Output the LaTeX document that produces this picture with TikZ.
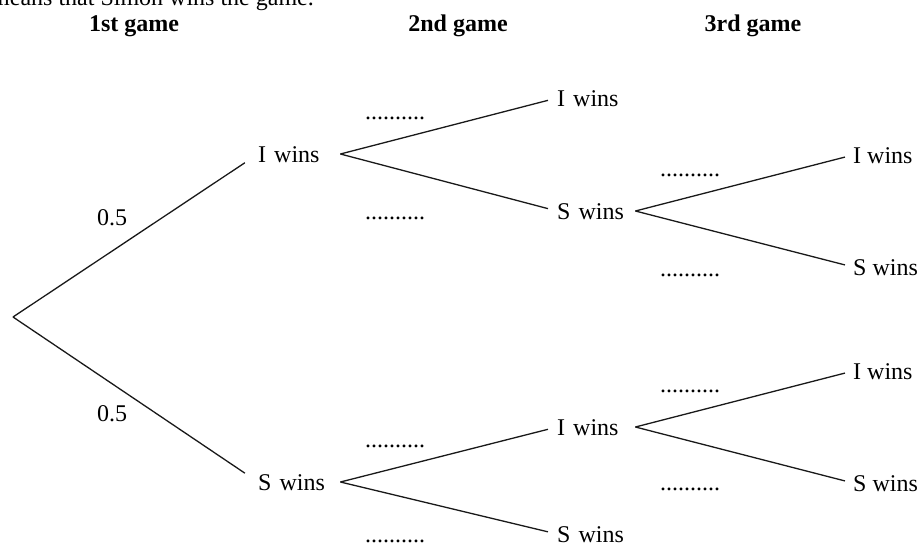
\documentclass[tikz,border=0pt]{standalone}
\usepackage{fontspec}
\setmainfont{Liberation Serif}
\begin{document}
\begin{tikzpicture}[x=1pt,y=-1pt,
  lbl/.style={anchor=west,inner xsep=0pt,inner ysep=0pt,text height=16pt,text depth=0pt,align=left,font=\fontsize{24}{28}\selectfont},
  lvlone/.style={text width=82pt},
  lvltwo/.style={text width=78pt},
  head/.style={anchor=base,inner sep=0pt,font=\bfseries\fontsize{24}{28}\selectfont},
  prob/.style={inner sep=0pt,font=\fontsize{24}{28}\selectfont},
  dotsline/.style={anchor=base,inner sep=0pt,font=\fontsize{24}{28}\selectfont},
  branch/.style={draw=black!90,line width=1.3pt}]
\useasboundingbox (0,0) rectangle (919,547);
\node[anchor=base east,inner sep=0pt,font=\fontsize{24}{28}\selectfont] (intro) at (314,5) {means that Simon wins the game.};
\node[head] (g1) at (134,31) {1st game};
\node[head] (g2) at (458,31) {2nd game};
\node[head] (g3) at (753,31) {3rd game};
\coordinate (root) at (13,317);
\node[lbl,lvlone] (i1) at (258,154) {I wins};
\node[lbl,lvlone] (s1) at (258,482) {S wins};
\node[lbl,lvltwo] (ii2) at (557,98) {I wins};
\node[lbl,lvltwo] (is2) at (557,211) {S wins};
\node[lbl,lvltwo] (si2) at (557,427) {I wins};
\node[lbl,lvltwo] (ss2) at (557,534) {S wins};
\node[lbl] (isi3) at (853,155) {I wins};
\node[lbl] (iss3) at (853,267) {S wins};
\node[lbl] (sii3) at (853,371) {I wins};
\node[lbl] (sis3) at (853,483) {S wins};
\node[prob] (p1) at (112,218) {0.5};
\node[prob] (p2) at (112,414) {0.5};
\node[dotsline] (d1) at (395,119) {..........};
\node[dotsline] (d2) at (395,219) {..........};
\node[dotsline] (d3) at (395,447) {..........};
\node[dotsline] (d4) at (395,542) {..........};
\node[dotsline] (d5) at (690,176) {..........};
\node[dotsline] (d6) at (690,276) {..........};
\node[dotsline] (d7) at (690,392) {..........};
\node[dotsline] (d8) at (690,490) {..........};
\draw[branch,shorten >=15.8pt] (root) -- (i1.west);
\draw[branch,shorten >=15.8pt] (root) -- (s1.west);
\draw[branch,shorten >=9.3pt] (i1.east) -- (ii2.west);
\draw[branch,shorten >=9.3pt] (i1.east) -- (is2.west);
\draw[branch,shorten >=9.3pt] (s1.east) -- (si2.west);
\draw[branch,shorten >=9.3pt] (s1.east) -- (ss2.west);
\draw[branch,shorten >=8.3pt] (is2.east) -- (isi3.west);
\draw[branch,shorten >=8.3pt] (is2.east) -- (iss3.west);
\draw[branch,shorten >=8.3pt] (si2.east) -- (sii3.west);
\draw[branch,shorten >=8.3pt] (si2.east) -- (sis3.west);
\end{tikzpicture}
\end{document}
